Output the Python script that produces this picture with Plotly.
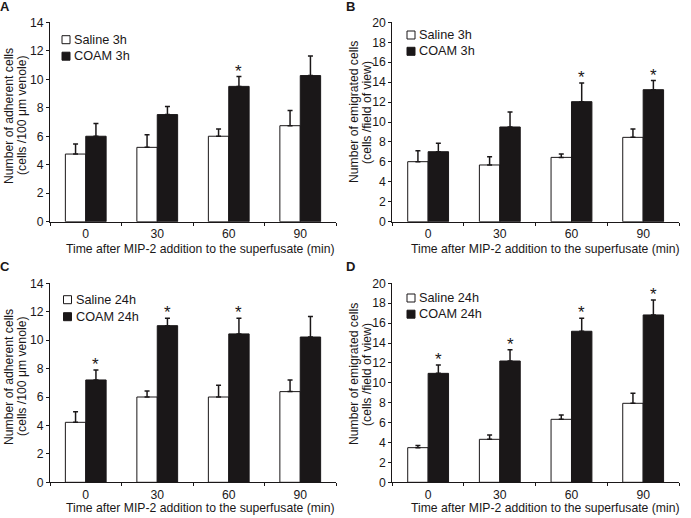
import plotly.graph_objects as go

# ---------------- data ----------------
times = ["0", "30", "60", "90"]

# Panel A: adherent cells, 3h
a_saline = [4.75, 5.22, 6.0, 6.74]
a_saline_err = [0.71, 0.89, 0.5, 1.06]
a_coam = [6.0, 7.52, 9.5, 10.26]
a_coam_err = [0.89, 0.56, 0.69, 1.38]
a_star = [False, False, True, False]

# Panel B: emigrated cells, 3h
b_saline = [6.02, 5.69, 6.45, 8.46]
b_saline_err = [1.1, 0.83, 0.34, 0.84]
b_coam = [7.02, 9.5, 12.04, 13.24]
b_coam_err = [0.84, 1.5, 1.86, 0.91]
b_star = [False, False, True, True]

# Panel C: adherent cells, 24h
c_saline = [4.22, 6.0, 6.0, 6.38]
c_saline_err = [0.75, 0.43, 0.82, 0.82]
c_coam = [7.2, 11.02, 10.44, 10.22]
c_coam_err = [0.7, 0.52, 1.1, 1.44]
c_star = [True, True, True, False]

# Panel D: emigrated cells, 24h
d_saline = [3.48, 4.32, 6.33, 7.94]
d_saline_err = [0.21, 0.44, 0.44, 1.0]
d_coam = [10.95, 12.19, 15.18, 16.82]
d_coam_err = [0.84, 1.14, 1.3, 1.5]
d_star = [True, True, True, True]

panel_letters = ["A", "B", "C", "D"]
legend_names = [["Saline 3h", "COAM 3h"], ["Saline 3h", "COAM 3h"],
                ["Saline 24h", "COAM 24h"], ["Saline 24h", "COAM 24h"]]
y_title_lines = [["Number of adherent cells", "(cells /100 μm venole)"],
                 ["Number of emigrated cells", "(cells /field of view)"],
                 ["Number of adherent cells", "(cells /100 μm venole)"],
                 ["Number of emigrated cells", "(cells /field of view)"]]
y_max = [14, 20, 14, 20]
x_title = "Time after MIP-2 addition to the superfusate (min)"

panels = [
    (a_saline, a_saline_err, a_coam, a_coam_err, a_star),
    (b_saline, b_saline_err, b_coam, b_coam_err, b_star),
    (c_saline, c_saline_err, c_coam, c_coam_err, c_star),
    (d_saline, d_saline_err, d_coam, d_coam_err, d_star),
]

# ---------------- layout geometry (pixels) ----------------
W, H = 691, 518
FONT = "Liberation Sans, Arial, sans-serif"
INK = "#1a1718"
FS = 12.2

# plot-area boxes: (left, right, top, bottom) in px
boxes = [(50, 336, 22.3, 221.7), (392.3, 679, 22.3, 221.7),
         (50, 336, 283.3, 482.3), (392.3, 679, 283.3, 482.3)]
letter_pos = [(5.5, 7), (350, 7), (5.5, 266), (350, 266)]
legend_pos = [(62, 39.7, 16.5), (407, 35, 16.3), (63.5, 299.7, 17), (407, 298, 16.2)]
ytitle_x = [(9, 22), (354, 367), (9, 22), (354, 367)]
ytitle_y = [116, 112, 377, 374]
xtitle_pos = [(200, 248.5), (545, 248.5), (200, 508), (545, 508)]

BAR_W = 0.285
fig = go.Figure()
annotations = []
shapes = []
layout = {}

for i, (sal, sal_e, coam, coam_e, star) in enumerate(panels):
    n = "" if i == 0 else str(i + 1)
    xa, ya = "x" + n, "y" + n
    fig.add_trace(go.Bar(
        x=times, y=sal, name=legend_names[i][0], xaxis=xa, yaxis=ya,
        marker=dict(color="white", line=dict(color=INK, width=1)),
        error_y=dict(type="data", array=sal_e, arrayminus=[0] * len(sal_e),
                     symmetric=False, color=INK, thickness=1.5, width=2.5),
        showlegend=False, offsetgroup="s"))
    fig.add_trace(go.Bar(
        x=times, y=coam, name=legend_names[i][1], xaxis=xa, yaxis=ya,
        marker=dict(color=INK, line=dict(color=INK, width=1)),
        error_y=dict(type="data", array=coam_e, arrayminus=[0] * len(coam_e),
                     symmetric=False, color=INK, thickness=1.5, width=2.5),
        showlegend=False, offsetgroup="c"))

    l, r, t, b = boxes[i]
    layout["xaxis" + n] = dict(
        domain=[l / W, r / W], anchor=ya, type="category",
        tickson="boundaries", ticks="outside", ticklen=3, tickwidth=1,
        tickcolor=INK, showline=True, linecolor=INK, linewidth=1,
        showgrid=False, zeroline=False, automargin=False,
        ticklabelstandoff=1,
        tickfont=dict(family=FONT, size=FS, color=INK),
        fixedrange=True)
    layout["yaxis" + n] = dict(
        domain=[(H - b) / H, (H - t) / H], anchor=xa,
        range=[0, y_max[i]], dtick=2, ticks="outside", ticklen=3,
        tickwidth=1, tickcolor=INK, showline=True, linecolor=INK,
        linewidth=1, showgrid=False, zeroline=False, automargin=False,
        tickfont=dict(family=FONT, size=FS, color=INK),
        fixedrange=True)

    # x-axis title
    tx, ty = xtitle_pos[i]
    annotations.append(dict(
        x=tx / W, y=1 - ty / H, xref="paper", yref="paper",
        text=x_title, showarrow=False, xanchor="center", yanchor="middle",
        font=dict(family=FONT, size=FS, color=INK)))

    # y-axis title (two lines, rotated)
    for k, line in enumerate(y_title_lines[i]):
        annotations.append(dict(
            x=ytitle_x[i][k] / W, y=1 - ytitle_y[i] / H, xref="paper", yref="paper",
            text=line, textangle=-90, showarrow=False,
            xanchor="center", yanchor="middle",
            font=dict(family=FONT, size=FS, color=INK)))

    # significance stars above COAM error bars
    for j, s in enumerate(star):
        if s:
            annotations.append(dict(
                x=j + BAR_W / 2, y=coam[j] + coam_e[j], xref=xa, yref=ya,
                text="*", showarrow=False, yanchor="bottom", xanchor="center",
                yshift=-6, font=dict(family=FONT, size=17, color=INK)))

    # panel letter
    lx, ly = letter_pos[i]
    annotations.append(dict(
        x=lx / W, y=1 - ly / H, xref="paper", yref="paper",
        text="<b>" + panel_letters[i] + "</b>", showarrow=False,
        xanchor="center", yanchor="middle",
        font=dict(family=FONT, size=13, color=INK)))

    # legend (swatch + label)
    gx, gy, gap = legend_pos[i]
    for k, (fill, name) in enumerate(zip(["white", INK], legend_names[i])):
        cy = gy + k * gap
        shapes.append(dict(
            type="rect", xref="paper", yref="paper",
            x0=gx / W, x1=(gx + 8) / W, y0=1 - (cy - 4) / H, y1=1 - (cy + 4) / H,
            line=dict(color=INK, width=1), fillcolor=fill))
        annotations.append(dict(
            x=(gx + 10) / W, y=1 - cy / H, xref="paper", yref="paper",
            text=name, showarrow=False, xanchor="left", yanchor="middle",
            font=dict(family=FONT, size=12.7, color=INK)))

fig.update_layout(
    width=W, height=H, margin=dict(l=0, r=0, t=0, b=0),
    paper_bgcolor="white", plot_bgcolor="white",
    barmode="group", bargap=0.43, bargroupgap=0,
    showlegend=False, annotations=annotations, shapes=shapes,
    font=dict(family=FONT, size=FS, color=INK),
    **layout)

fig.write_html("out.html", config={"displayModeBar": False},
               post_script="document.body.style.margin='0';")
